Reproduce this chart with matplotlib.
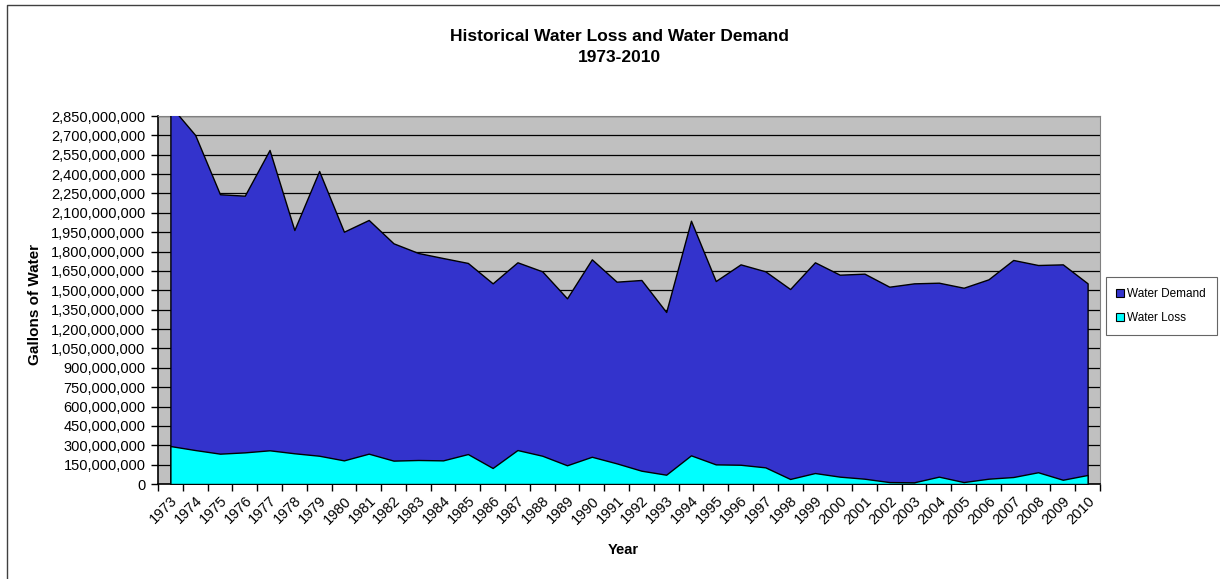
import matplotlib
matplotlib.use('Agg')
import matplotlib.pyplot as plt
import numpy as np
from matplotlib.lines import Line2D

plt.rcParams['font.family'] = ['Liberation Sans', 'DejaVu Sans']

years = list(range(1973, 2011))
# gallons
water_demand = [2930e6, 2703e6, 2244e6, 2233e6, 2587e6, 1967e6, 2424e6, 1954e6,
                2045e6, 1864e6, 1789e6, 1750e6, 1712e6, 1554e6, 1717e6, 1647e6,
                1438e6, 1740e6, 1567e6, 1580e6, 1332e6, 2039e6, 1572e6, 1701e6,
                1647e6, 1510e6, 1717e6, 1621e6, 1629e6, 1528e6, 1554e6, 1559e6,
                1520e6, 1585e6, 1735e6, 1696e6, 1701e6, 1554e6]
water_loss = [294e6, 263e6, 235e6, 245e6, 261e6, 238e6, 219e6, 183e6,
              235e6, 181e6, 186e6, 183e6, 232e6, 124e6, 263e6, 219e6,
              145e6, 211e6, 160e6, 103e6, 72e6, 222e6, 152e6, 149e6,
              129e6, 39e6, 85e6, 57e6, 41e6, 15e6, 13e6, 57e6,
              15e6, 41e6, 54e6, 91e6, 33e6, 70e6]
y_ticks = np.arange(0, 2850e6 + 1, 150e6)

fig = plt.figure(figsize=(12.2, 5.79), dpi=100)
ax = fig.add_axes([158/1220, 95/579, 942/1220, 368/579])

x = np.arange(len(years))
ax.set_facecolor('#C0C0C0')
ax.fill_between(x, 0, water_demand, facecolor='#3333CC', edgecolor='black',
                linewidth=1, zorder=3, label='Water Demand')
ax.fill_between(x, 0, water_loss, facecolor='#00FFFF', edgecolor='black',
                linewidth=1, zorder=4, label='Water Loss')

ax.set_xlim(-0.5, len(years) - 0.5)
ax.set_ylim(0, 2850e6)
ax.set_yticks(y_ticks)
ax.set_yticklabels(['{:,.0f}'.format(v) for v in y_ticks], fontsize=10.5)
ax.yaxis.grid(True, color='black', linewidth=0.9, zorder=1)
ax.set_axisbelow(True)

ax.set_xticks(x)
ax.set_xticklabels([str(y) for y in years], rotation=45, ha='right',
                   rotation_mode='anchor', fontsize=10.5)
ax.set_xticks(np.arange(-0.5, len(years)), minor=True)
ax.tick_params(axis='x', which='major', length=0, pad=7)
ax.tick_params(axis='x', which='minor', length=5, width=1, color='black')
ax.tick_params(axis='y', length=5, width=1, color='black', pad=4)

for s in ['top', 'right']:
    ax.spines[s].set_color('#808080')
for s in ['left', 'bottom']:
    ax.spines[s].set_color('black')
    ax.spines[s].set_linewidth(1.2)

fig.text(35/1220, 1 - 304/579, 'Gallons of Water', rotation=90, ha='center',
         va='center', fontsize=11, fontweight='bold')
fig.text(623/1220, 1 - 550/579, 'Year', ha='center', va='center',
         fontsize=10.5, fontweight='bold')
fig.text(619/1220, 1 - 47/579, 'Historical Water Loss and Water Demand\n1973-2010',
         ha='center', va='center', fontsize=12.5, fontweight='bold', linespacing=1.5)

handles = [Line2D([], [], marker='s', linestyle='none', markersize=5.5,
                  markerfacecolor='#3333CC', markeredgecolor='black', markeredgewidth=0.8),
           Line2D([], [], marker='s', linestyle='none', markersize=5.5,
                  markerfacecolor='#00FFFF', markeredgecolor='black', markeredgewidth=0.8)]
leg = fig.legend(handles, ['Water Demand', 'Water Loss'], loc='center left',
                 bbox_to_anchor=(1106/1220, 1 - 306/579), fontsize=8.5,
                 frameon=True, fancybox=False, edgecolor='#404040',
                 handlelength=0.6, handletextpad=0.3, labelspacing=1.05,
                 borderpad=0.9, borderaxespad=0)
leg.get_frame().set_linewidth(0.8)

# outer border (only top and left visible in the original)
fig.add_artist(Line2D([7/1220, 7/1220, 1], [0, 1 - 5/579, 1 - 5/579],
                      transform=fig.transFigure, color='#404040', linewidth=1))

fig.savefig('out.png', dpi=100)
